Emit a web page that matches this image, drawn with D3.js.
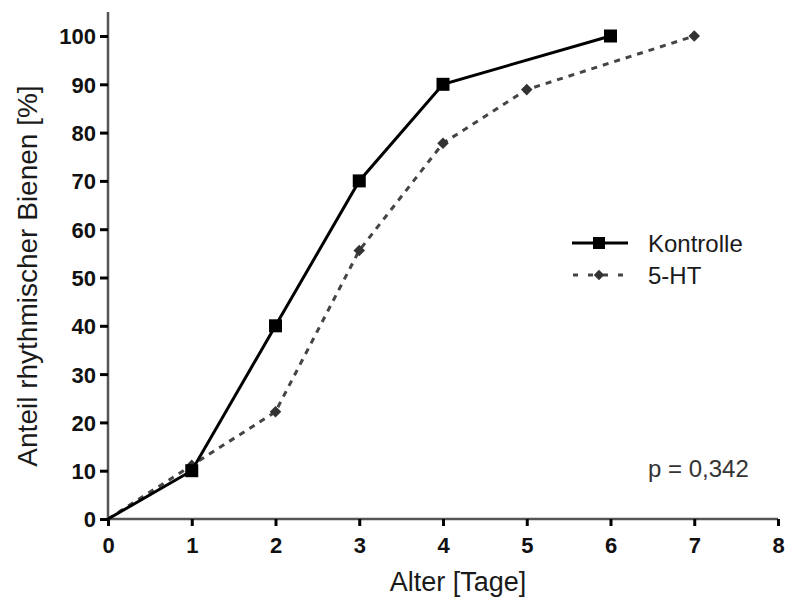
<!DOCTYPE html>
<html>
<head>
<meta charset="utf-8">
<script src="https://cdn.jsdelivr.net/npm/d3@7"></script>
<style>
  body { margin: 0; background: #fff; }
  svg { display: block; font-family: "Liberation Sans", Arial, sans-serif; }
</style>
</head>
<body>
<svg class="graphic" width="786" height="602"></svg>
<script>
// data
const kontrolleDays = [0, 1, 2, 3, 4, 6];
const kontrolleValues = [0, 10, 40, 70, 90, 100];
const htDays = [0, 1, 2, 3, 4, 5, 7];
const htValues = [0, 11.1, 22.2, 55.6, 77.8, 88.9, 100];
const xTicks = [0, 1, 2, 3, 4, 5, 6, 7, 8];
const yTicks = [0, 10, 20, 30, 40, 50, 60, 70, 80, 90, 100];

const $svg = d3.select('.graphic');

const x = d3.scaleLinear().domain([0, 8]).range([108, 778]);
const y = d3.scaleLinear().domain([0, 100]).range([519, 36]);

// axes
const xAxis = $svg.append('g')
    .attr('transform', `translate(0,${y(0)})`)
    .call(d3.axisBottom(x).tickValues(xTicks).tickFormat(d3.format('d')).tickSizeInner(7).tickSizeOuter(0).tickPadding(11));

const yAxis = $svg.append('g')
    .attr('transform', `translate(${x(0)},0)`)
    .call(d3.axisLeft(y).tickValues(yTicks).tickFormat(d3.format('d')).tickSizeInner(8).tickSizeOuter(0).tickPadding(4));

[xAxis, yAxis].forEach(g => {
    g.select('.domain').attr('stroke', '#555').attr('stroke-width', 2.5);
    g.selectAll('.tick line').attr('stroke', '#000').attr('stroke-width', 3);
    g.selectAll('.tick text')
        .attr('fill', '#111')
        .style('font-size', '22px')
        .style('font-weight', 'bold');
});
xAxis.select('.domain').attr('d', `M${x(0)},0H${x(8)}`);
yAxis.select('.domain').attr('d', `M0,12V${y(0)}`);
yAxis.selectAll('.tick text').attr('dy', '0.36em');

// titles
$svg.append('text')
    .attr('x', 458).attr('y', 591)
    .attr('text-anchor', 'middle')
    .style('font-size', '27px').attr('fill', '#1a1a1a')
    .text('Alter [Tage]');

$svg.append('text')
    .attr('transform', 'translate(37,276) rotate(-90)')
    .attr('text-anchor', 'middle')
    .style('font-size', '28px').attr('fill', '#1a1a1a')
    .text('Anteil rhythmischer Bienen [%]');

const line = d3.line().x(d => x(d[0])).y(d => y(d[1]));

const htData = htDays.map((d, i) => [d, htValues[i]]);
const kData = kontrolleDays.map((d, i) => [d, kontrolleValues[i]]);

// 5-HT
$svg.append('path')
    .datum(htData)
    .attr('d', line)
    .attr('fill', 'none')
    .attr('stroke', '#444')
    .attr('stroke-width', 3)
    .attr('stroke-dasharray', '6,6');

$svg.selectAll('.ht')
    .data(htData.slice(1))
    .join('path')
    .attr('class', 'ht')
    .attr('transform', d => `translate(${x(d[0])},${y(d[1])})`)
    .attr('d', d3.symbol(d3.symbolDiamond2, 85))
    .attr('fill', '#333');

// Kontrolle
$svg.append('path')
    .datum(kData)
    .attr('d', line)
    .attr('fill', 'none')
    .attr('stroke', '#000')
    .attr('stroke-width', 3);

$svg.selectAll('.k')
    .data(kData.slice(1))
    .join('rect')
    .attr('class', 'k')
    .attr('x', d => x(d[0]) - 6.5)
    .attr('y', d => y(d[1]) - 6.5)
    .attr('width', 13)
    .attr('height', 13)
    .attr('fill', '#000');

// legend
const legend = $svg.append('g');
legend.append('line')
    .attr('x1', 572).attr('x2', 628).attr('y1', 243).attr('y2', 243)
    .attr('stroke', '#000').attr('stroke-width', 3);
legend.append('rect')
    .attr('x', 593).attr('y', 237).attr('width', 12).attr('height', 12).attr('fill', '#000');
legend.append('text')
    .attr('x', 648).attr('y', 252)
    .style('font-size', '24px').attr('fill', '#1a1a1a')
    .text('Kontrolle');

legend.append('line')
    .attr('x1', 573).attr('x2', 623).attr('y1', 275).attr('y2', 275)
    .attr('stroke', '#444').attr('stroke-width', 3)
    .attr('stroke-dasharray', '5,10');
legend.append('path')
    .attr('transform', 'translate(599,275)')
    .attr('d', d3.symbol(d3.symbolDiamond2, 70))
    .attr('fill', '#333');
legend.append('text')
    .attr('x', 648).attr('y', 284)
    .style('font-size', '24px').attr('fill', '#1a1a1a')
    .text('5-HT');

// p value
$svg.append('text')
    .attr('x', 648).attr('y', 477)
    .style('font-size', '24px').attr('fill', '#333')
    .text('p = 0,342');
</script>
</body>
</html>
